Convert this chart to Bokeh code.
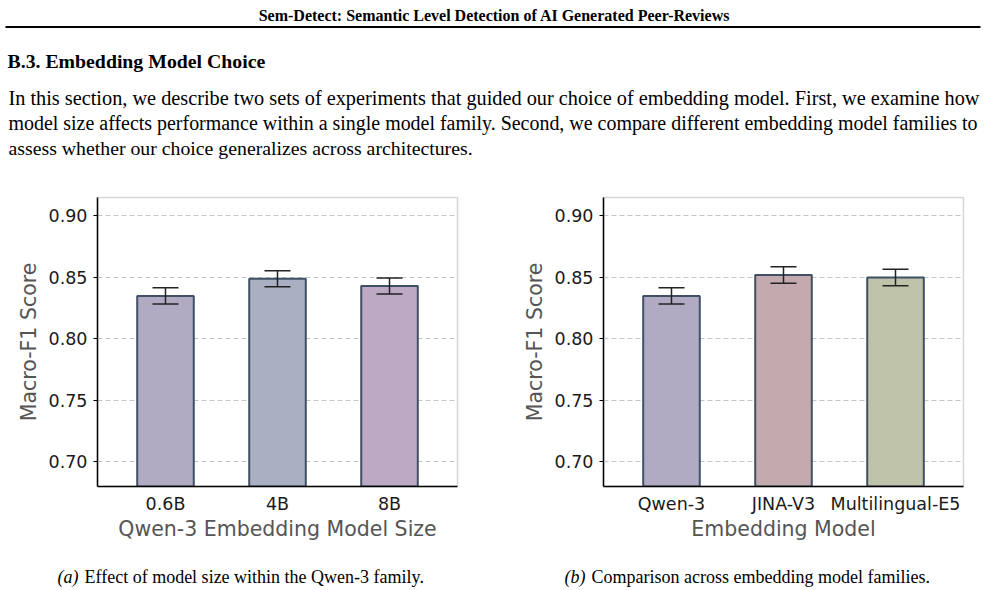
from bokeh.plotting import figure
from bokeh.layouts import column, row
from bokeh.models import Range1d, Whisker, TeeHead, ColumnDataSource, FixedTicker
from bokeh.core.properties import value
from bokeh.embed import file_html
from bokeh.resources import INLINE

# ---------------- data ----------------
sizes = ["0.6B", "4B", "8B"]
size_scores = [0.835, 0.849, 0.843]
size_err = [0.0067, 0.0065, 0.0065]
size_colors = ["#b0aac3", "#aab0c2", "#bda9c3"]

models = ["Qwen-3", "JINA-V3", "Multilingual-E5"]
model_scores = [0.835, 0.852, 0.850]
model_err = [0.0067, 0.0067, 0.0067]
model_colors = ["#b0aac3", "#c3aaaf", "#bec3aa"]

y_ticks = [0.70, 0.75, 0.80, 0.85, 0.90]

header = "Sem-Detect: Semantic Level Detection of AI Generated Peer-Reviews"
section = "B.3. Embedding Model Choice"
para = [
    "In this section, we describe two sets of experiments that guided our choice of embedding model. First, we examine how",
    "model size affects performance within a single model family. Second, we compare different embedding model families to",
    "assess whether our choice generalizes across architectures.",
]
cap_a = ("(a)", "Effect of model size within the Qwen-3 family.")
cap_b = ("(b)", "Comparison across embedding model families.")

SERIF = value("Liberation Serif")
SANS = "DejaVu Sans"

# ---------------- top text panel ----------------
top = figure(width=985, height=190, x_range=Range1d(0, 985), y_range=Range1d(190, 0),
             output_backend="svg", toolbar_location=None, min_border=0)
top.axis.visible = False
top.grid.visible = False
top.outline_line_color = None
top.text(x=[494], y=[15], text=[header], text_font=SERIF, text_font_style="bold",
         text_font_size="16px", text_align="center", text_baseline="middle", text_color="#000000")
top.segment(x0=[5], y0=[26.5], x1=[980], y1=[26.5], line_color="#000000", line_width=2)
top.text(x=[7], y=[60], text=[section], text_font=SERIF, text_font_style="bold",
         text_font_size="19.8px", text_align="left", text_baseline="middle", text_color="#000000")
para_sizes = ["20.3px", "19.95px", "19.8px"]
for ln, yy, fs in zip(para, [97, 122, 147], para_sizes):
    top.text(x=[8], y=[yy], text=[ln], text_font=SERIF,
             text_font_size=fs, text_align="left", text_baseline="middle", text_color="#000000")


def make_bar(cats, scores, errs, colors, xlabel, width, border_left, border_right):
    xs = list(range(len(cats)))
    p = figure(width=width, height=360, x_range=Range1d(-0.607, 2.607), y_range=Range1d(0.68, 0.915),
               output_backend="svg", toolbar_location=None,
               min_border_left=border_left, min_border_right=border_right,
               min_border_top=7, min_border_bottom=64)
    src = ColumnDataSource(dict(x=xs, top=scores, color=colors,
                                lo=[s - e for s, e in zip(scores, errs)],
                                hi=[s + e for s, e in zip(scores, errs)]))
    p.vbar(x="x", top="top", bottom=0.0, width=0.505, fill_color="color", fill_alpha=1.0,
           line_color="#3f5064", line_width=2, source=src)
    w = Whisker(base="x", lower="lo", upper="hi", source=src, line_color="#222222", line_width=1.5,
                level="overlay",
                upper_head=TeeHead(size=26, line_color="#222222", line_width=1.5),
                lower_head=TeeHead(size=26, line_color="#222222", line_width=1.5))
    p.add_layout(w)

    p.outline_line_color = "#d6d6d6"
    p.outline_line_width = 1.5
    p.xgrid.visible = False
    p.ygrid.grid_line_color = "#c4c4c4"
    p.ygrid.grid_line_dash = "5 3"
    p.ygrid.grid_line_width = 1
    p.ygrid.ticker = FixedTicker(ticks=y_ticks)

    p.yaxis.ticker = FixedTicker(ticks=y_ticks)
    p.yaxis.major_label_overrides = {t: f"{t:.2f}" for t in y_ticks}
    p.yaxis.axis_label = "Macro-F1 Score"
    p.xaxis.ticker = FixedTicker(ticks=xs)
    p.xaxis.major_label_overrides = {i: c for i, c in enumerate(cats)}
    p.xaxis.axis_label = xlabel

    for ax in (p.xaxis[0], p.yaxis[0]):
        ax.axis_line_color = "#000000"
        ax.axis_line_width = 1.5
        ax.minor_tick_line_color = None
        ax.major_label_text_font = SANS
        ax.major_label_text_color = "#1a1a1a"
        ax.major_label_text_font_size = "17.5px"
        ax.axis_label_text_font = SANS
        ax.axis_label_text_font_style = "normal"
        ax.axis_label_text_font_size = "20.5px"
        ax.axis_label_text_color = "#555555"
    p.yaxis.major_tick_out = 4
    p.yaxis.major_tick_in = 0
    p.yaxis.major_tick_line_color = "#000000"
    p.yaxis.major_tick_line_width = 1.2
    p.yaxis.major_label_standoff = 6
    p.yaxis.axis_label_standoff = 5
    p.xaxis.major_tick_out = 0
    p.xaxis.major_tick_in = 0
    p.xaxis.major_label_standoff = 7
    p.xaxis.axis_label_standoff = 0
    return p


left = make_bar(sizes, size_scores, size_err, size_colors, "Qwen-3 Embedding Model Size", 492, 97, 35)
right = make_bar(models, model_scores, model_err, model_colors, "Embedding Model", 493, 111, 22)

# ---------------- caption panel ----------------
bot = figure(width=985, height=40, x_range=Range1d(0, 985), y_range=Range1d(40, 0),
             output_backend="svg", toolbar_location=None, min_border=0)
bot.axis.visible = False
bot.grid.visible = False
bot.outline_line_color = None
bot.text(x=[57, 564], y=[26, 26], text=[cap_a[0], cap_b[0]], text_font=SERIF, text_font_style="italic",
         text_font_size="18px", text_align="left", text_baseline="middle", text_color="#000000")
bot.text(x=[84, 591], y=[26, 26], text=[cap_a[1], cap_b[1]], text_font=SERIF,
         text_font_size="18px", text_align="left", text_baseline="middle", text_color="#000000")

layout = column(top, row(left, right), bot)
with open("out.html", "w") as f:
    f.write(file_html(layout, INLINE))
